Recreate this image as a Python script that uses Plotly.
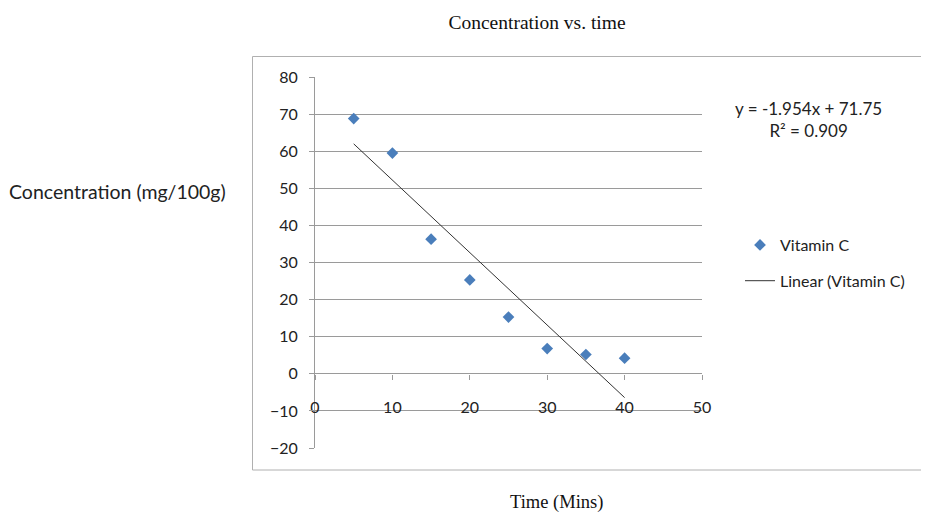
import plotly.graph_objects as go

# Data
time_mins = [5, 10, 15, 20, 25, 30, 35, 40]
vitamin_c = [68.8, 59.5, 36.3, 25.3, 15.3, 6.8, 5.2, 4.2]

# Linear trendline as reported on the chart
slope = -1.954
intercept = 71.75
r_squared = 0.909
trend_x = [min(time_mins), max(time_mins)]
trend_y = [slope * x + intercept for x in trend_x]

x_ticks = [0, 10, 20, 30, 40, 50]
y_ticks = [-20, -10, 0, 10, 20, 30, 40, 50, 60, 70, 80]

OFF = 8  # page body margin
W, H = 929 - OFF, 513 - OFF
L, R, T, B = 315 - OFF, 702 - OFF, 77 - OFF, 448 - OFF


def px(xr):
    return (xr - OFF - L) / (R - L)


def py(yr):
    return (B - (yr - OFF)) / (B - T)


grid = "#9a9a9a"
txt = "#222222"
font_sans = "Lato, Open Sans, sans-serif"
font_serif = "Liberation Serif, Times New Roman, serif"

fig = go.Figure()
fig.add_trace(go.Scatter(
    x=time_mins, y=vitamin_c, mode="markers", name="Vitamin C",
    marker=dict(symbol="diamond", size=9, color="#4a7ebb"),
    legendgroup="a",
))
fig.add_trace(go.Scatter(
    x=trend_x, y=trend_y, mode="lines", name="Linear (Vitamin C)",
    line=dict(color="#333333", width=1),
    legendgroup="b",
))

fig.update_layout(
    width=W, height=H,
    margin=dict(l=L, r=W - R, t=T, b=H - B, pad=0),
    paper_bgcolor="white", plot_bgcolor="white",
    font=dict(family=font_sans, size=16, color=txt),
    title=dict(text="Concentration vs. time", x=(537 - OFF) / W, xref="container",
               xanchor="center", y=1 - (22 - OFF) / H, yref="container",
               yanchor="middle",
               font=dict(family=font_serif, size=19.5, color="#111111")),
    xaxis=dict(range=[0, 50], tickvals=x_ticks, showgrid=False, zeroline=False,
               showline=False, ticks="outside", ticklen=5, tickcolor=grid,
               anchor="free", position=0.2, ticklabelstandoff=14,
               tickfont=dict(family=font_sans, size=16, color=txt)),
    yaxis=dict(range=[-20, 80], tickvals=y_ticks, showgrid=True, gridcolor=grid,
               gridwidth=1, zeroline=True, zerolinecolor=grid, zerolinewidth=1,
               showline=True, linecolor=grid, linewidth=1, ticks="outside",
               ticklen=5, tickcolor=grid, ticklabelstandoff=8, domain=[0, 1],
               tickfont=dict(family=font_sans, size=16, color=txt)),
    showlegend=True,
    legend=dict(x=px(740), y=py(263), xanchor="left",
                yanchor="middle", bgcolor="rgba(0,0,0,0)", tracegroupgap=12,
                font=dict(family=font_sans, size=16, color=txt)),
)

fig.add_annotation(text=f"y = {slope}x + {intercept}<br>R² = {r_squared}",
                   xref="paper", yref="paper", x=px(808), y=py(119),
                   xanchor="center", yanchor="middle",
                   showarrow=False, align="center",
                   font=dict(family=font_sans, size=17, color=txt))
fig.add_annotation(text="Concentration (mg/100g)", xref="paper", yref="paper",
                   x=px(117), y=py(191), xanchor="center", yanchor="middle",
                   showarrow=False,
                   font=dict(family=font_sans, size=19.5, color=txt))
fig.add_annotation(text="Time (Mins)", xref="paper", yref="paper",
                   x=px(556), y=py(502), xanchor="center", yanchor="middle",
                   showarrow=False,
                   font=dict(family=font_serif, size=18.5, color="#111111"))

# chart-area border (right edge lies outside the picture)
border = dict(color="#b0b0b0", width=1)
bx0, bx1, by0, by1 = px(252.5), px(960), py(470), py(56.5)
fig.add_shape(type="line", xref="paper", yref="paper", x0=bx0, x1=bx0,
              y0=by0, y1=by1, line=border, layer="below")
fig.add_shape(type="line", xref="paper", yref="paper", x0=bx0, x1=bx1,
              y0=by0, y1=by0, line=border, layer="below")
fig.add_shape(type="line", xref="paper", yref="paper", x0=bx0, x1=bx1,
              y0=by1, y1=by1, line=border, layer="below")

fig.write_html("out.html")
